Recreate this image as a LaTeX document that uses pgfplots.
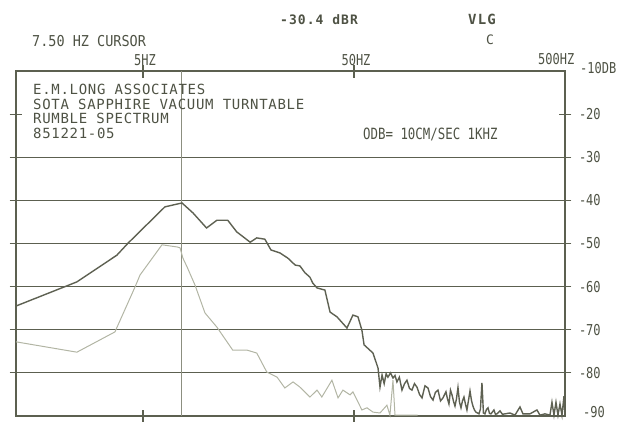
\documentclass[border=0pt]{standalone}
\usepackage{pgfplots}
\pgfplotsset{compat=1.18}
\usepackage{fontspec}
\newfontfamily\plotfont{DejaVu Sans Mono}
\newfontfamily\boxfont[LetterSpace=5]{DejaVu Sans Mono}
\newfontfamily\headfont[LetterSpace=8]{DejaVu Sans Mono}
\newfontfamily\narrowfont[FakeStretch=0.8]{DejaVu Sans Mono}
\newfontfamily\midfont[FakeStretch=0.9]{DejaVu Sans Mono}

\definecolor{ink}{HTML}{4E5244}
\definecolor{frame}{HTML}{5C6050}
\definecolor{trace}{HTML}{5E6152}
\definecolor{faint}{HTML}{B2B5A4}
\definecolor{cursor}{HTML}{8C8F80}

\begin{document}
\begin{tikzpicture}
\useasboundingbox (-16pt,-5pt) rectangle (603pt,416pt);
\begin{axis}[
	scale only axis,
	width=549pt, height=345pt,
	xmode=log,
	xmin=1.25, xmax=500,
	ymin=-90, ymax=-10,
	clip=false,
	axis line style={frame, line width=1.2pt},
	xtick={5,50},
	xticklabels={5HZ,50HZ},
	xticklabel pos=upper,
	xminorticks=false,
	ytick={-80,-70,...,-30},
	yticklabels={-80,-70,-60,-50,-40,-30},
	extra y ticks={-20},
	extra y tick labels={-20},
	extra y tick style={grid=none},
	yticklabel pos=upper,
	ymajorgrids,
	grid style={frame, line width=1.2pt},
	tick align=center,
	major tick length=13pt,
	tick style={frame, line width=1.2pt},
	ticklabel style={font=\narrowfont\fontsize{15}{15}\selectfont, text=ink},
	xticklabel style={yshift=-5pt, xshift=2pt},
	yticklabel style={anchor=west, xshift=4pt},
]
% cursor line at 7.50 Hz
\draw[cursor, line width=0.9pt] (axis cs:7.6,-90) -- (axis cs:7.6,-10);

% light (lower) trace
\addplot[faint, line width=1pt, sharp plot] coordinates {
	(1.25,-72.8) (2.43,-75.2) (3.68,-70.5) (4.58,-60.1) (4.84,-57.3)
	(6.15,-50.3) (7.25,-50.8) (7.49,-51.0) (7.73,-53.4) (8.08,-55.4)
	(8.81,-59.6) (9.83,-66.1) (11.2,-69.4) (13.3,-74.7) (15.5,-74.7)
	(17.3,-75.4) (19.3,-79.8) (21.6,-81.0) (23.5,-83.5) (25.7,-82.1)
	(27.7,-83.3) (30.9,-85.6) (33.4,-84.0) (35.2,-85.6) (39.3,-81.7)
	(42.0,-85.8) (44.3,-84.0) (47.9,-85.1) (49.4,-84.4) (54.5,-88.6)
	(57.6,-88.1) (61.5,-89.1) (66.4,-89.3) (71.6,-87.5) (74.0,-89.8)
	(76.5,-81.7) (78.2,-89.8) (100,-89.8)
};

% dark (upper) trace
\addplot[trace, line width=1.4pt, sharp plot] coordinates {
	(1.25,-64.5) (2.43,-58.9) (3.76,-52.7) (4.25,-49.9) (6.35,-41.5)
	(7.65,-40.6) (8.62,-42.9) (10.0,-46.4) (11.2,-44.6) (12.6,-44.6)
	(13.9,-47.3) (16.1,-49.7) (17.3,-48.7) (18.9,-49.0) (20.2,-51.5)
	(22.3,-52.2) (24.3,-53.4) (26.3,-55.0) (27.7,-55.2) (29.3,-56.8)
	(30.9,-57.8) (31.9,-59.2) (33.4,-60.3) (36.4,-60.8) (38.5,-65.9)
	(41.5,-67.0) (46.3,-69.6) (49.4,-66.6) (52.2,-67.0) (54.5,-70.1)
	(55.8,-73.5) (61.5,-75.4) (65.0,-78.9) (66.4,-83.3) (67.9,-80.5)
	(69.5,-82.5) (71.0,-80.2) (72.4,-81.0) (74.5,-80.0) (76.5,-81.2)
	(78.2,-80.6) (79.9,-82.1) (82.0,-81.0) (84.4,-84.0) (86.8,-82.5)
	(89.1,-81.7) (91.6,-83.6) (94.1,-84.0) (96.7,-82.5) (99.4,-83.3)
	(102.2,-85.0) (105.0,-85.8) (108.5,-83.0) (112.1,-83.5) (115.2,-85.5)
	(118.4,-86.3) (121.6,-84.5) (125.0,-84.0) (128.5,-86.5) (132.0,-85.8)
	(136.4,-84.4) (138.6,-86.0) (140.9,-87.2) (143.3,-84.0) (145.7,-85.1)
	(148.1,-86.6) (150.5,-87.7) (153.0,-86.0) (155.5,-83.4) (158.1,-86.8)
	(160.7,-88.1) (163.3,-86.5) (166.0,-85.6) (168.7,-87.2) (171.5,-88.6)
	(174.4,-86.4) (177.3,-84.2) (180.2,-86.4) (183.1,-87.7) (186.1,-88.6)
	(189.2,-89.1) (195.5,-89.5) (198.7,-88.4) (202.0,-82.3) (205.3,-89.3)
	(208.7,-89.5) (212.2,-88.5) (215.8,-88.1) (219.3,-89.4) (222.9,-89.5)
	(230.3,-88.6) (234.0,-89.6) (237.9,-89.5) (245.9,-88.8) (252.6,-89.6)
	(259.7,-89.5) (274.2,-89.3) (289.6,-89.8) (305.9,-87.9) (316.0,-89.5)
	(341.2,-89.5) (368.2,-88.6) (380.4,-89.8) (401.8,-89.5) (424.3,-89.8)
	(433.7,-86.8) (443.3,-89.8) (453.1,-86.8) (463.1,-89.8) (473.3,-87.2)
	(483.8,-89.8) (494.5,-85.4) (499.9,-89.8)
};
\end{axis}

% header texts
\node[anchor=base west, inner sep=0, text=ink, font=\midfont\fontsize{15}{15}\selectfont] at (16pt,369pt) {7.50 HZ CURSOR};
\node[anchor=base west, inner sep=0, text=ink, font=\headfont\bfseries\fontsize{13}{13}\selectfont] at (264pt,391pt) {-30.4 dBR};
\node[anchor=base west, inner sep=0, text=ink, font=\headfont\bfseries\fontsize{14}{14}\selectfont] at (452pt,391pt) {VLG};
\node[anchor=base west, inner sep=0, text=ink, font=\plotfont\fontsize{13}{13}\selectfont] at (470pt,371pt) {C};
\node[anchor=base west, inner sep=0, text=ink, font=\narrowfont\fontsize{15}{15}\selectfont] at (522pt,351pt) {500HZ};
\node[anchor=base west, inner sep=0, text=ink, font=\narrowfont\fontsize{15}{15}\selectfont] at (564pt,342pt) {-10DB};
\node[anchor=base west, inner sep=0, text=ink, font=\narrowfont\fontsize{15}{15}\selectfont] at (567pt,-1pt) {-90};

% box texts
\node[anchor=base west, inner sep=0, text=ink, font=\boxfont\fontsize{14}{14}\selectfont] at (17pt,321pt) {E.M.LONG ASSOCIATES};
\node[anchor=base west, inner sep=0, text=ink, font=\boxfont\fontsize{14}{14}\selectfont] at (17pt,306pt) {SOTA SAPPHIRE VACUUM TURNTABLE};
\node[anchor=base west, inner sep=0, text=ink, font=\boxfont\fontsize{14}{14}\selectfont] at (17pt,292pt) {RUMBLE SPECTRUM};
\node[anchor=base west, inner sep=0, text=ink, font=\boxfont\fontsize{14}{14}\selectfont] at (17pt,277pt) {851221-05};
\node[anchor=base west, inner sep=0, text=ink, font=\narrowfont\fontsize{15.5}{15}\selectfont] at (347pt,276pt) {ODB= 10CM/SEC 1KHZ};
\end{tikzpicture}
\end{document}
